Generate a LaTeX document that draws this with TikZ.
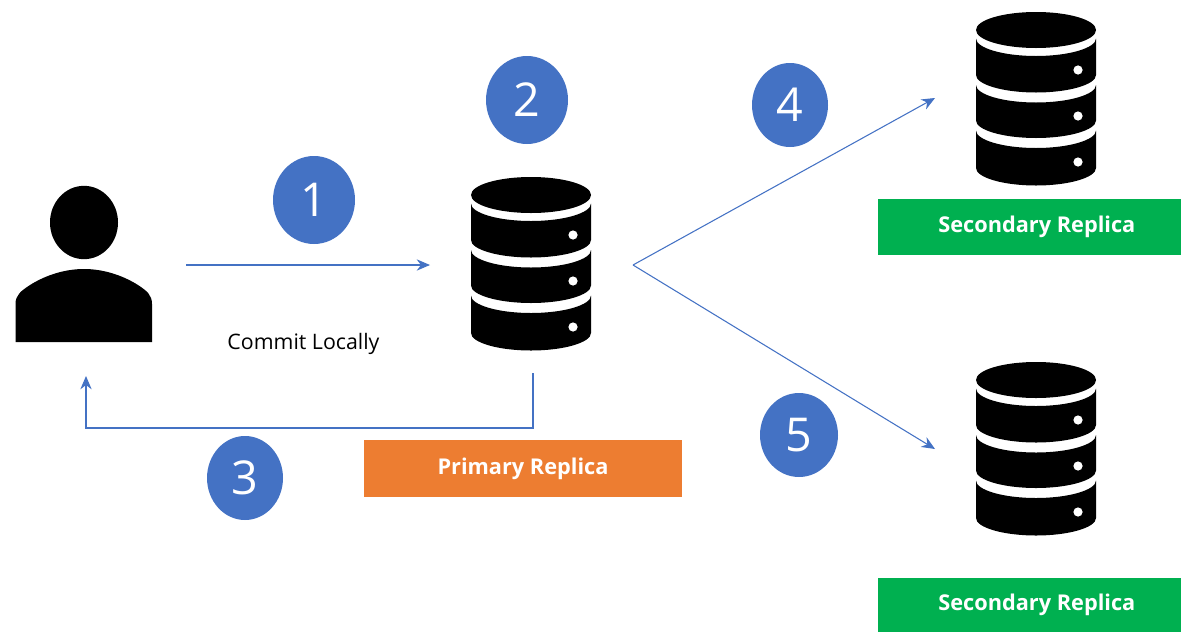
\documentclass[tikz,border=0pt]{standalone}
\usepackage{fontspec}
\setmainfont{Open Sans}
\usetikzlibrary{shapes.geometric,arrows.meta}
\definecolor{badgeblue}{HTML}{4472C4}
\definecolor{primaryorange}{HTML}{ED7D31}
\definecolor{secgreen}{HTML}{00B050}
\newcommand{\cylseg}[2]{%
  \fill[black] (-60,#1) .. controls (-60,#1+9.5) and (-33,#1+17.5) .. (0,#1+17.5)
    .. controls (33,#1+17.5) and (60,#1+9.5) .. (60,#1)
    -- (60,#2) .. controls (60,#2+9.5) and (33,#2+17.5) .. (0,#2+17.5)
    .. controls (-33,#2+17.5) and (-60,#2+9.5) .. (-60,#2) -- cycle;}
\tikzset{
  badge/.style={ellipse,fill=badgeblue,text=white,inner sep=0pt,font=\fontsize{35}{35}\selectfont},
  rolebox/.style={rectangle,inner sep=0pt,text=white,font=\fontsize{16.3}{18}\selectfont\bfseries},
  flow/.style={draw=badgeblue,line width=0.8pt,-{Stealth[length=10pt,width=8.5pt]}},
  dbstack/.pic={
    \fill[black] (0,0) ellipse [x radius=45pt,y radius=13.5pt];
    \cylseg{8.5}{45}
    \cylseg{55}{90.5}
    \cylseg{100.5}{138}
    \foreach \dy in {40,86,132} \fill[white] (42,\dy) circle [radius=3.45pt];
  }
}
\begin{document}
\begin{tikzpicture}[x=0.75pt,y=-0.75pt]
\useasboundingbox (0,0) rectangle (1181,632);
% person
\fill[black] (84,222.5) ellipse [x radius=25.5pt,y radius=27.5pt];
\fill[black] (15.5,342) -- (15.5,304) .. controls (15.5,295) and (21,291) .. (30,285)
  .. controls (46,275) and (65,269) .. (84,269)
  .. controls (103,269) and (122,275) .. (138,285)
  .. controls (147,291) and (152,295) .. (152,304) -- (152,342) -- cycle;
% databases
\pic at (531,195) {dbstack};
\pic at (1036,30) {dbstack};
\pic at (1036,380) {dbstack};
% boxes
\node[rolebox,fill=primaryorange,minimum width=238.5pt,minimum height=42.75pt] (primary) at (523,468.5) {Primary Replica};
\node[rolebox,fill=secgreen,minimum width=227.25pt,minimum height=42pt] (secA) at (1029.5,227) {\hspace*{11pt}Secondary Replica};
\node[rolebox,fill=secgreen,minimum width=227.25pt,minimum height=40.5pt] (secB) at (1029.5,605) {\hspace*{11pt}Secondary Replica};
% badges
\node[badge,minimum width=61.5pt,minimum height=66pt] (b1) at (314,200) {1};
\node[badge,minimum width=61.5pt,minimum height=66pt] (b2) at (527,100) {2};
\node[badge,minimum width=57pt,minimum height=63pt] (b3) at (245,478) {3};
\node[badge,minimum width=57pt,minimum height=63pt] (b4) at (790,105) {4};
\node[badge,minimum width=58.5pt,minimum height=63pt] (b5) at (799,435) {5};
\node[inner sep=0pt,font=\fontsize{16}{18}\selectfont] (commit) at (303.5,344) {Commit Locally};
% connector ends
\coordinate (userOut) at (186,265);
\coordinate (primaryIn) at (430,265);
\coordinate (primaryOut) at (533,373);
\coordinate (userIn) at (86,376);
\coordinate (fanOut) at (633,265);
\coordinate (secAIn) at (935,98);
\coordinate (secBIn) at (935,449);
\draw[flow] (userOut) -- (primaryIn);
\draw[flow] (primaryOut) -- (533,428) -- (86,428) -- (userIn);
\draw[flow] (fanOut) -- (secAIn);
\draw[flow] (fanOut) -- (secBIn);
\end{tikzpicture}
\end{document}
